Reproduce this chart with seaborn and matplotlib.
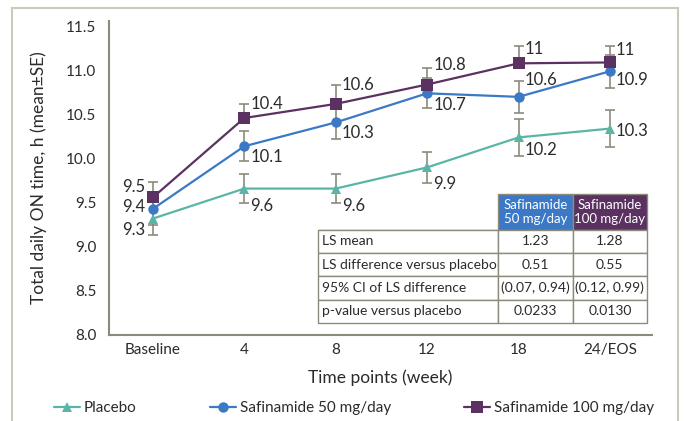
import matplotlib
matplotlib.use("Agg")
import matplotlib.pyplot as plt
from matplotlib.lines import Line2D
from matplotlib.patches import Rectangle
import numpy as np
import pandas as pd
import seaborn as sns

# values
timepoints = ["Baseline", "4", "8", "12", "18", "24/EOS"]
placebo = [9.32, 9.66, 9.66, 9.90, 10.24, 10.34]
saf50 = [9.43, 10.14, 10.41, 10.74, 10.70, 10.99]
saf100 = [9.56, 10.46, 10.62, 10.84, 11.08, 11.09]
placebo_se = [0.19, 0.165, 0.165, 0.18, 0.21, 0.21]
saf50_se = [0.18, 0.17, 0.19, 0.17, 0.18, 0.19]
saf100_se = [0.18, 0.16, 0.21, 0.19, 0.20, 0.19]
placebo_lbl = ["9.3", "9.6", "9.6", "9.9", "10.2", "10.3"]
saf50_lbl = ["9.4", "10.1", "10.3", "10.7", "10.6", "10.9"]
saf100_lbl = ["9.5", "10.4", "10.6", "10.8", "11", "11"]

table_cols = ["Safinamide\n50 mg/day", "Safinamide\n100 mg/day"]
table_rows = ["LS mean", "LS difference versus placebo",
              "95% CI of LS difference", "p-value versus placebo"]
table_50 = ["1.23", "0.51", "(0.07, 0.94)", "0.0233"]
table_100 = ["1.28", "0.55", "(0.12, 0.99)", "0.0130"]

C_PLA = "#5bb5a6"
C_50 = "#3b79c6"
C_100 = "#5a3160"
C_ERR = "#8d8a7c"
C_TXT = "#2b2b2b"

sns.set_style("white")
plt.rcParams["font.family"] = ["Lato", "DejaVu Sans"]

fig = plt.figure(figsize=(6.84, 4.21), dpi=100)
ax = fig.add_axes([109 / 684, 86 / 421, 543 / 684, 314 / 421])

# outer frame
fig.patches.append(Rectangle((12 / 684, -0.05), 666 / 684, 1.05 - 8 / 421,
                             transform=fig.transFigure, fill=False,
                             edgecolor="#cdc9ba", linewidth=1.5))

x = np.arange(len(timepoints))
series = [
    ("Placebo", placebo, placebo_se, placebo_lbl, C_PLA, "^", 7, "both"),
    ("Safinamide 50 mg/day", saf50, saf50_se, saf50_lbl, C_50, "o", 7.5, "both"),
    ("Safinamide 100 mg/day", saf100, saf100_se, saf100_lbl, C_100, "s", 8.5, "up"),
]

# label offsets in pixels (dx, dy) per series
offsets = {
    "Placebo": [(-8, -11), (6, -17), (6, -17), (6, -17), (6, -13), (6, -2)],
    "Safinamide 50 mg/day": [(-8, 2), (6, -11), (6, -11), (6, -12), (6, 17), (6, -9)],
    "Safinamide 100 mg/day": [(-8, 10), (6, 14), (6, 19), (6, 20), (6, 14), (6, 12)],
}

for name, vals, se, lbls, col, mk, ms, side in series:
    se = np.array(se)
    yerr = [np.zeros_like(se), se] if side == "up" else se
    ax.errorbar(x, vals, yerr=yerr, fmt="none", ecolor=C_ERR, elinewidth=1.2,
                capsize=3.5, capthick=1.2, zorder=2)

for name, vals, se, lbls, col, mk, ms, side in series:
    df = pd.DataFrame({"pos": x, "value": vals})
    sns.lineplot(data=df, x="pos", y="value", ax=ax, color=col, marker=mk,
                 markersize=ms, markeredgewidth=0, linewidth=1.6, zorder=3)
    for i, (v, t) in enumerate(zip(vals, lbls)):
        dx, dy = offsets[name][i]
        ax.annotate(t, (x[i], v), xytext=(dx, dy), textcoords="offset pixels",
                    ha="right" if i == 0 else "left", va="center",
                    fontsize=12, color=C_TXT)

ax.set_xlim(-0.48, 5.46)
ax.set_ylim(8.0, 11.56)
ax.set_yticks([8.0, 8.5, 9.0, 9.5, 10.0, 10.5, 11.0, 11.5])
ax.set_yticklabels([f"{v:.1f}" for v in ax.get_yticks()])
ax.set_xticks(x)
ax.set_xticklabels(timepoints)
ax.tick_params(axis="both", length=0, labelsize=11, colors=C_TXT)
ax.tick_params(axis="y", pad=9)
ax.tick_params(axis="x", pad=6)
ax.set_xlabel("Time points (week)", fontsize=12.5, color=C_TXT, labelpad=9)
ax.set_ylabel("Total daily ON time, h (mean\u00b1SE)", fontsize=12.5,
              color=C_TXT, labelpad=14)
for s in ["top", "right"]:
    ax.spines[s].set_visible(False)
for s in ["left", "bottom"]:
    ax.spines[s].set_color("#8d8a7c")
    ax.spines[s].set_linewidth(1.5)

# stats table
cell_text = [["", table_cols[0], table_cols[1]]]
for r, a, b in zip(table_rows, table_50, table_100):
    cell_text.append([r, a, b])
tbl = ax.table(cellText=cell_text, colWidths=[182, 75, 75],
               bbox=[(318 - 109) / 543, (335 - 323) / 314,
                     (647 - 318) / 543, (323 - 194) / 314], zorder=5)
tbl.auto_set_font_size(False)
for (r, c), cell in tbl.get_celld().items():
    cell.set_edgecolor("#8d8a7c")
    cell.set_linewidth(1.0)
    cell.set_height(36 if r == 0 else 23.5)
    txt = cell.get_text()
    txt.set_fontsize(10)
    txt.set_color(C_TXT)
    if c == 0:
        cell.set_text_props(ha="left")
        cell.PAD = 0.02
    else:
        cell.set_text_props(ha="center")
    if r == 0:
        if c == 0:
            cell.set_facecolor("none")
            cell.visible_edges = "B"
        else:
            cell.set_facecolor(C_50 if c == 1 else C_100)
            txt.set_color("white")
            txt.set_fontsize(9.5)
            txt.set_linespacing(1.2)

# legend
handles = [Line2D([], [], color=c, marker=m, markersize=ms, markeredgewidth=0,
                  linewidth=1.6) for _, _, _, _, c, m, ms, _ in series]
fig.legend(handles, [s[0] for s in series], loc="center", ncol=3,
           bbox_to_anchor=(354 / 684, 1 - 408 / 421), frameon=False,
           fontsize=11, handlelength=1.7, handletextpad=0.25,
           columnspacing=4.8, labelcolor=C_TXT)

fig.savefig("out.png", dpi=100)
